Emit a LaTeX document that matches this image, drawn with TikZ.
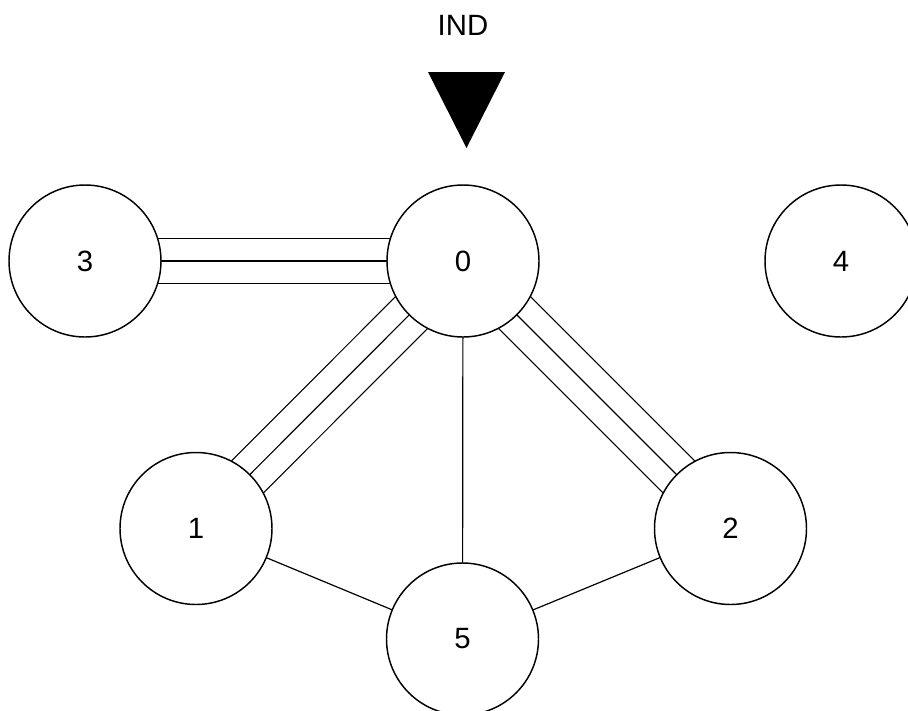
\documentclass[tikz,border=0pt]{standalone}
\usepackage{fontspec}
\setmainfont{Liberation Sans}
\usepackage{tikz}
\usetikzlibrary{backgrounds}

\begin{document}
\begin{tikzpicture}[x=0.75pt,y=-0.75pt,
  vertex/.style={draw, circle, fill=white, line width=1.1pt, minimum size=114pt, inner sep=0pt, font=\fontsize{22}{26}\selectfont},
  single/.style={line width=0.9pt},
  triple/.style={line width=0.9pt, preaction={draw, line width=0.9pt, double=white, double distance=32.85pt}}]

\useasboundingbox (0,0) rectangle (908,711);

\node[font=\fontsize{22}{26}\selectfont] (ind) at (463,25) {IND};
\fill (428,72) -- (505,72) -- (466.5,148) -- cycle;

\node[vertex] (n0) at (463,261) {0};
\node[vertex] (n3) at (85,261) {3};
\node[vertex] (n4) at (841,261) {4};
\node[vertex] (n1) at (196,528.5) {1};
\node[vertex] (n2) at (730.5,528.5) {2};
\node[vertex] (n5) at (462.5,639) {5};

\begin{pgfonlayer}{background}
\foreach \a/\b in {n3/n0, n0/n1, n0/n2}{
\draw[triple] (\a.center)--(\b.center);
}
\foreach \a/\b in {n0/n5, n1/n5, n5/n2}{
\draw[single] (\a.center)--(\b.center);
}
\end{pgfonlayer}

\end{tikzpicture}
\end{document}
